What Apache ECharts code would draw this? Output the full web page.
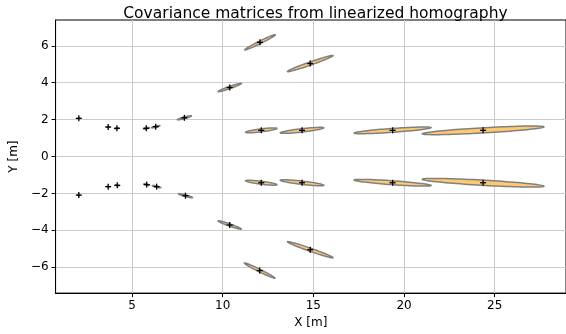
<!DOCTYPE html>
<html>
<head>
<meta charset="utf-8">
<script src="https://cdn.jsdelivr.net/npm/echarts@6/dist/echarts.min.js"></script>
<style>
  html, body { margin: 0; padding: 0; background: #fff; }
  #chart { width: 566px; height: 334px; }
</style>
</head>
<body>
<div id="chart"></div>
<script>
// Tick positions
const xTicks = [5, 10, 15, 20, 25];
const yTicks = [-6, -4, -2, 0, 2, 4, 6];

// Estimated landmark positions [m]
const centerX = [2.07, 3.69, 4.17, 5.79, 6.31, 7.89, 10.39, 12.06, 14.83, 12.13, 14.38, 19.37, 24.36,
                 2.07, 3.69, 4.19, 5.81, 6.36, 7.95, 10.39, 12.04, 14.83, 12.13, 14.38, 19.37, 24.36];
const centerY = [2.07, 1.60, 1.53, 1.53, 1.62, 2.10, 3.74, 6.19, 5.04, 1.42, 1.42, 1.42, 1.42,
                 -2.09, -1.63, -1.56, -1.52, -1.63, -2.12, -3.71, -6.18, -5.05, -1.42, -1.42, -1.42, -1.42];

// Covariance ellipse geometry: semi-axes [m] and tilt of the major axis [deg]
const semiMajor = [0.06, 0.08, 0.10, 0.16, 0.24, 0.40, 0.68, 0.94, 1.33, 0.87, 1.21, 2.13, 3.36,
                   0.06, 0.08, 0.10, 0.16, 0.24, 0.40, 0.68, 0.94, 1.33, 0.87, 1.21, 2.13, 3.36];
const semiMinor = [0.02, 0.02, 0.025, 0.03, 0.035, 0.045, 0.06, 0.07, 0.085, 0.08, 0.09, 0.105, 0.14,
                   0.02, 0.02, 0.025, 0.03, 0.035, 0.045, 0.06, 0.07, 0.085, 0.08, 0.09, 0.105, 0.14];
const tiltDeg = [10, 10, 10, 12, 14, 15, 19, 26, 19, 7, 6.5, 4, 3.2,
                 -10, -10, -10, -12, -14, -15, -19, -26, -19, -7, -6.5, -4, -3.2];

const ellipseData = centerX.map((x, i) => [x, centerY[i], semiMajor[i], semiMinor[i], tiltDeg[i]]);
const pointData = centerX.map((x, i) => [x, centerY[i]]);

const FONT = 'DejaVu Sans';
const minusFmt = v => String(v).replace('-', '\u2212');

// Ellipse outline computed in data space, projected through the cartesian scales
function renderEllipse(params, api) {
  const cx = api.value(0), cy = api.value(1);
  const a = api.value(2), b = api.value(3);
  const th = api.value(4) * Math.PI / 180;
  const pts = [];
  const n = 90;
  for (let k = 0; k < n; k++) {
    const t = 2 * Math.PI * k / n;
    const ex = a * Math.cos(t), ey = b * Math.sin(t);
    const x = cx + ex * Math.cos(th) - ey * Math.sin(th);
    const y = cy + ex * Math.sin(th) + ey * Math.cos(th);
    pts.push(api.coord([x, y]));
  }
  return {
    type: 'polygon',
    shape: { points: pts },
    style: { fill: '#ffc970', stroke: '#808080', lineWidth: 1.5 }
  };
}

// "+" marker at each landmark
function renderPlus(params, api) {
  const p = api.coord([api.value(0), api.value(1)]);
  const h = 3;
  const st = { stroke: '#000', lineWidth: 1.3 };
  return {
    type: 'group',
    children: [
      { type: 'line', shape: { x1: p[0] - h, y1: p[1], x2: p[0] + h, y2: p[1] }, style: st },
      { type: 'line', shape: { x1: p[0], y1: p[1] - h, x2: p[0], y2: p[1] + h }, style: st }
    ]
  };
}

const chart = echarts.init(document.getElementById('chart'), null, { renderer: 'canvas' });
chart.setOption({
  animation: false,
  backgroundColor: '#fff',
  title: {
    text: 'Covariance matrices from linearized homography',
    left: 310.5, top: 1, textAlign: 'center',
    textStyle: { fontFamily: FONT, fontSize: 15.5, fontWeight: 'normal', color: '#000' }
  },
  grid: {
    left: 49.5, top: 20, right: -5.5, bottom: 38.7,
    show: true, borderColor: '#000', borderWidth: 1, backgroundColor: 'transparent'
  },
  xAxis: {
    type: 'value', min: 0.79, max: 28.93,
    name: 'X [m]', nameLocation: 'middle', nameGap: 22,
    nameTextStyle: { fontFamily: FONT, fontSize: 12, color: '#000' },
    axisLine: { onZero: false, lineStyle: { color: '#000', width: 1 } },
    axisTick: { customValues: xTicks, length: 4, lineStyle: { color: '#000' } },
    axisLabel: { customValues: xTicks, margin: 7, fontFamily: FONT, fontSize: 12, color: '#000' },
    splitLine: { show: true, lineStyle: { color: '#cccccc', width: 1 } }
  },
  yAxis: {
    type: 'value', min: -7.4, max: 7.4,
    name: 'Y [m]', nameLocation: 'middle', nameGap: 30, nameRotate: 90,
    nameTextStyle: { fontFamily: FONT, fontSize: 12, color: '#000' },
    axisLine: { show: true, onZero: false, lineStyle: { color: '#000', width: 1 } },
    axisTick: { show: true, customValues: yTicks, length: 4, lineStyle: { color: '#000' } },
    axisLabel: { customValues: yTicks, margin: 7, fontFamily: FONT, fontSize: 12, color: '#000', formatter: minusFmt },
    splitLine: { show: true, lineStyle: { color: '#cccccc', width: 1 } }
  },
  series: [
    {
      type: 'custom', name: 'covariance', data: ellipseData,
      encode: { x: 0, y: 1 }, renderItem: renderEllipse, silent: true, z: 2
    },
    {
      type: 'custom', name: 'landmarks', data: pointData,
      encode: { x: 0, y: 1 }, renderItem: renderPlus, silent: true, z: 3
    }
  ]
});
</script>
</body>
</html>
